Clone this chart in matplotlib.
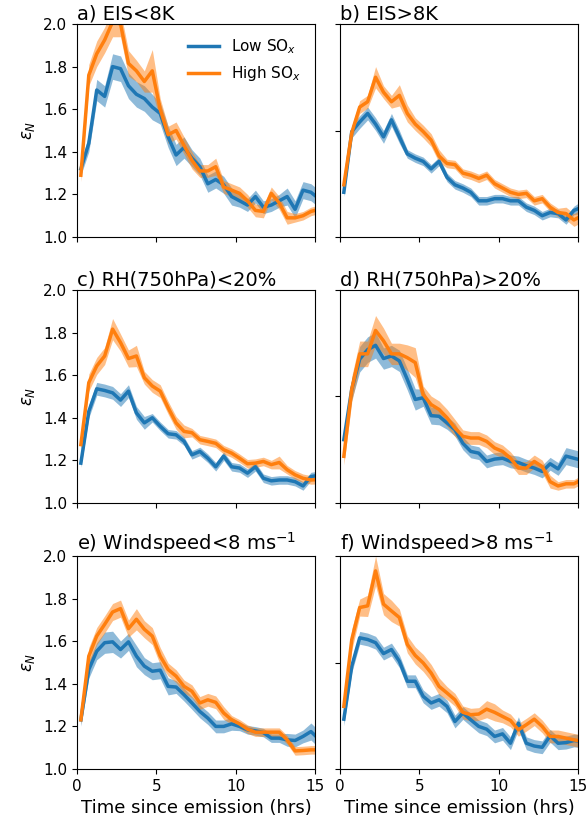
import matplotlib
matplotlib.use("Agg")
import matplotlib.pyplot as plt
import numpy as np

# half-hour bins since emission
hours = np.arange(31) * 0.5 + 0.25

titles = ["a) EIS<8K", "b) EIS>8K",
          "c) RH(750hPa)<20%", "d) RH(750hPa)>20%",
          "e) Windspeed<8 ms$^{-1}$", "f) Windspeed>8 ms$^{-1}$"]

# mean eps_N, low SOx
low_a = [1.32, 1.44, 1.69, 1.66, 1.80, 1.79, 1.71, 1.67, 1.65, 1.61, 1.58, 1.47, 1.385, 1.42, 1.37, 1.33,
         1.25, 1.27, 1.245, 1.19, 1.17, 1.15, 1.19, 1.14, 1.15, 1.17, 1.19, 1.13, 1.22, 1.21, 1.18]
low_b = [1.21, 1.495, 1.54, 1.58, 1.53, 1.47, 1.55, 1.47, 1.39, 1.37, 1.355, 1.32, 1.355, 1.28, 1.245, 1.23,
         1.21, 1.17, 1.17, 1.18, 1.18, 1.17, 1.17, 1.14, 1.125, 1.10, 1.115, 1.11, 1.08, 1.125, 1.14]
low_c = [1.187, 1.43, 1.536, 1.528, 1.517, 1.483, 1.525, 1.423, 1.376, 1.40, 1.36, 1.325, 1.32, 1.29, 1.226, 1.242,
         1.21, 1.17, 1.22, 1.17, 1.164, 1.14, 1.17, 1.116, 1.104, 1.108, 1.108, 1.10, 1.08, 1.124, 1.13]
low_d = [1.297, 1.535, 1.675, 1.72, 1.74, 1.678, 1.69, 1.667, 1.58, 1.486, 1.494, 1.41, 1.407, 1.376, 1.344, 1.28,
         1.242, 1.234, 1.195, 1.206, 1.21, 1.195, 1.19, 1.175, 1.164, 1.148, 1.184, 1.16, 1.22, 1.21, 1.20]
low_e = [1.231, 1.467, 1.553, 1.593, 1.597, 1.561, 1.597, 1.53, 1.483, 1.459, 1.464, 1.388, 1.385, 1.349, 1.31, 1.27,
         1.239, 1.20, 1.20, 1.212, 1.20, 1.184, 1.179, 1.171, 1.145, 1.145, 1.137, 1.134, 1.153, 1.176, 1.14]
low_f = [1.234, 1.483, 1.616, 1.608, 1.593, 1.542, 1.561, 1.506, 1.412, 1.412, 1.341, 1.31, 1.325, 1.294, 1.223, 1.263,
         1.231, 1.20, 1.187, 1.153, 1.165, 1.121, 1.215, 1.121, 1.108, 1.102, 1.156, 1.121, 1.124, 1.134, 1.13]

# mean eps_N, high SOx
high_a = [1.29, 1.76, 1.86, 1.925, 2.01, 2.0, 1.815, 1.78, 1.73, 1.78, 1.60, 1.48, 1.50, 1.43, 1.36, 1.31,
          1.31, 1.33, 1.235, 1.22, 1.205, 1.17, 1.125, 1.12, 1.205, 1.16, 1.09, 1.09, 1.10, 1.12, 1.13]
high_b = [1.245, 1.49, 1.61, 1.635, 1.75, 1.68, 1.635, 1.665, 1.58, 1.53, 1.495, 1.455, 1.38, 1.345, 1.34, 1.30,
          1.29, 1.275, 1.29, 1.25, 1.23, 1.21, 1.20, 1.205, 1.17, 1.18, 1.14, 1.115, 1.11, 1.08, 1.10]
high_c = [1.274, 1.565, 1.643, 1.69, 1.816, 1.753, 1.678, 1.69, 1.588, 1.549, 1.525, 1.447, 1.376, 1.336, 1.33, 1.297,
          1.289, 1.28, 1.25, 1.234, 1.21, 1.184, 1.187, 1.195, 1.18, 1.19, 1.156, 1.132, 1.116, 1.108, 1.11]
high_d = [1.219, 1.535, 1.70, 1.70, 1.81, 1.761, 1.70, 1.70, 1.682, 1.659, 1.509, 1.462, 1.439, 1.40, 1.352, 1.313,
          1.305, 1.305, 1.289, 1.258, 1.242, 1.21, 1.164, 1.164, 1.195, 1.171, 1.10, 1.08, 1.09, 1.09, 1.11]
high_e = [1.231, 1.53, 1.624, 1.679, 1.737, 1.753, 1.659, 1.703, 1.656, 1.624, 1.53, 1.467, 1.436, 1.388, 1.365, 1.31,
          1.325, 1.313, 1.263, 1.231, 1.212, 1.187, 1.173, 1.173, 1.173, 1.173, 1.137, 1.085, 1.087, 1.09, 1.09]
high_f = [1.294, 1.608, 1.758, 1.766, 1.93, 1.774, 1.742, 1.711, 1.585, 1.533, 1.498, 1.451, 1.388, 1.357, 1.325, 1.266,
          1.255, 1.258, 1.281, 1.266, 1.247, 1.228, 1.184, 1.208, 1.234, 1.20, 1.153, 1.153, 1.145, 1.137, 1.13]

# standard error (half width of the shaded band)
err_low_a = [0.03, 0.04, 0.05, 0.05, 0.06, 0.06, 0.06, 0.06, 0.06, 0.06, 0.05, 0.05, 0.05, 0.05, 0.04, 0.04,
             0.04, 0.04, 0.04, 0.04, 0.03, 0.03, 0.03, 0.03, 0.03, 0.03, 0.04, 0.04, 0.04, 0.04, 0.04]
err_low_b = [0.02, 0.03, 0.03, 0.03, 0.03, 0.03, 0.03, 0.03, 0.02, 0.02, 0.02, 0.02, 0.02, 0.02, 0.02, 0.02,
             0.02, 0.02, 0.02, 0.02, 0.02, 0.02, 0.02, 0.02, 0.02, 0.02, 0.02, 0.02, 0.02, 0.02, 0.03]
err_low_c = [0.02, 0.03, 0.03, 0.03, 0.03, 0.03, 0.03, 0.03, 0.03, 0.02, 0.02, 0.02, 0.02, 0.02, 0.02, 0.02,
             0.02, 0.02, 0.02, 0.02, 0.02, 0.02, 0.02, 0.02, 0.02, 0.02, 0.02, 0.02, 0.02, 0.02, 0.02]
err_low_d = [0.04, 0.05, 0.06, 0.06, 0.06, 0.05, 0.05, 0.05, 0.05, 0.05, 0.04, 0.04, 0.04, 0.03, 0.03, 0.03,
             0.03, 0.03, 0.03, 0.03, 0.03, 0.03, 0.03, 0.03, 0.03, 0.03, 0.03, 0.03, 0.04, 0.04, 0.04]
err_low_e = [0.03, 0.04, 0.04, 0.05, 0.05, 0.04, 0.04, 0.05, 0.04, 0.04, 0.04, 0.04, 0.03, 0.03, 0.03, 0.03,
             0.03, 0.03, 0.03, 0.03, 0.02, 0.02, 0.02, 0.02, 0.02, 0.02, 0.03, 0.03, 0.03, 0.04, 0.04]
err_low_f = [0.03, 0.03, 0.03, 0.03, 0.03, 0.03, 0.03, 0.03, 0.03, 0.03, 0.03, 0.03, 0.03, 0.03, 0.03, 0.03,
             0.03, 0.03, 0.03, 0.03, 0.03, 0.03, 0.03, 0.03, 0.03, 0.03, 0.03, 0.03, 0.03, 0.03, 0.03]

err_high_a = [0.03, 0.05, 0.06, 0.06, 0.07, 0.06, 0.06, 0.05, 0.05, 0.10, 0.05, 0.04, 0.04, 0.04, 0.04, 0.03,
              0.03, 0.04, 0.03, 0.03, 0.03, 0.03, 0.03, 0.03, 0.03, 0.03, 0.03, 0.02, 0.02, 0.02, 0.02]
err_high_b = [0.02, 0.03, 0.03, 0.03, 0.05, 0.03, 0.03, 0.05, 0.04, 0.03, 0.03, 0.03, 0.03, 0.02, 0.02, 0.02,
              0.02, 0.02, 0.02, 0.02, 0.02, 0.02, 0.02, 0.02, 0.02, 0.02, 0.02, 0.02, 0.03, 0.03, 0.03]
err_high_c = [0.03, 0.04, 0.04, 0.04, 0.05, 0.04, 0.04, 0.05, 0.03, 0.03, 0.03, 0.03, 0.03, 0.03, 0.02, 0.02,
              0.02, 0.02, 0.02, 0.02, 0.02, 0.02, 0.02, 0.02, 0.02, 0.03, 0.02, 0.02, 0.02, 0.02, 0.02]
err_high_d = [0.04, 0.06, 0.06, 0.06, 0.07, 0.06, 0.05, 0.05, 0.06, 0.07, 0.04, 0.04, 0.04, 0.04, 0.04, 0.03,
              0.03, 0.03, 0.03, 0.03, 0.03, 0.03, 0.03, 0.03, 0.03, 0.03, 0.03, 0.02, 0.02, 0.02, 0.02]
err_high_e = [0.02, 0.04, 0.04, 0.04, 0.04, 0.04, 0.04, 0.05, 0.04, 0.04, 0.04, 0.03, 0.03, 0.03, 0.03, 0.03,
              0.03, 0.03, 0.03, 0.02, 0.02, 0.02, 0.02, 0.02, 0.02, 0.02, 0.02, 0.02, 0.02, 0.02, 0.02]
err_high_f = [0.03, 0.05, 0.04, 0.05, 0.07, 0.05, 0.05, 0.04, 0.04, 0.04, 0.04, 0.04, 0.04, 0.03, 0.03, 0.03,
              0.03, 0.03, 0.04, 0.04, 0.03, 0.03, 0.03, 0.03, 0.03, 0.03, 0.03, 0.03, 0.03, 0.03, 0.03]

lows = [low_a, low_b, low_c, low_d, low_e, low_f]
highs = [high_a, high_b, high_c, high_d, high_e, high_f]
err_lows = [err_low_a, err_low_b, err_low_c, err_low_d, err_low_e, err_low_f]
err_highs = [err_high_a, err_high_b, err_high_c, err_high_d, err_high_e, err_high_f]

plt.rcParams['font.size'] = 11

fig = plt.figure(figsize=(5.87, 8.27), dpi=100)
lefts = [0.131, 0.579]
bottoms = [0.7134, 0.3918, 0.0701]
w, h = 0.4055, 0.2576

for k in range(6):
    row, col = k // 2, k % 2
    ax = fig.add_axes([lefts[col], bottoms[row], w, h])
    lo = np.array(lows[k])
    hi = np.array(highs[k])
    elo = np.array(err_lows[k])
    ehi = np.array(err_highs[k])
    ax.fill_between(hours, lo - elo, lo + elo, color='C0', alpha=0.5, lw=0)
    ax.plot(hours, lo, color='C0', lw=2.5, label='Low SO$_x$')
    ax.fill_between(hours, hi - ehi, hi + ehi, color='C1', alpha=0.5, lw=0)
    ax.plot(hours, hi, color='C1', lw=2.5, label='High SO$_x$')
    ax.set_xlim(0, 15)
    ax.set_ylim(1.0, 2.0)
    ax.set_xticks([0, 5, 10, 15])
    ax.set_title(titles[k], loc='left', fontsize=14, pad=2)
    if col == 0:
        ax.set_yticks([1.0, 1.2, 1.4, 1.6, 1.8, 2.0])
        ax.set_ylabel(r'$\epsilon_N$', fontsize=12)
    else:
        ax.set_yticks([1.0, 1.5, 2.0])
        ax.set_yticklabels([])
    if row == 2:
        ax.set_xlabel('Time since emission (hrs)', fontsize=13)
    else:
        ax.set_xticklabels([])
    if k == 0:
        ax.legend(loc='upper right', frameon=False, fontsize=11, handlelength=2.0)

fig.savefig('out.png', dpi=100)
